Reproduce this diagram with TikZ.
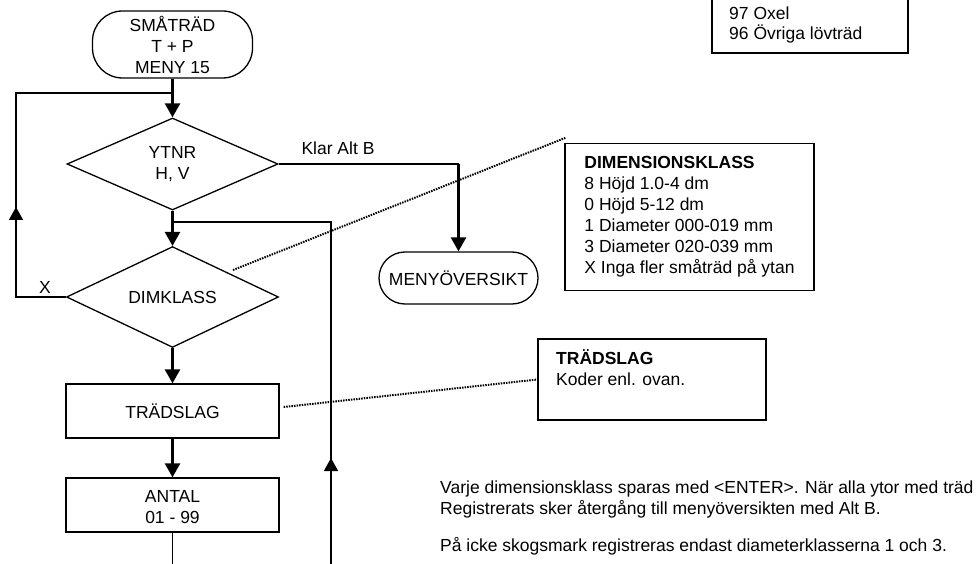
\documentclass[tikz,border=0pt]{standalone}
\usepackage{fontspec}
\setmainfont{Liberation Sans}
\usetikzlibrary{shapes.geometric,arrows.meta,calc}
\begin{document}
\begin{tikzpicture}[x=1pt,y=-1pt,
  every node/.style={font=\fontsize{17.5}{21}\selectfont},
  shp/.style={draw, line width=1.3pt, inner sep=0pt, align=center},
  term/.style={shp, rectangle, rounded corners=30pt},
  dec/.style={shp, diamond},
  proc/.style={shp, rectangle, minimum width=213pt, minimum height=54pt},
  note/.style={draw, line width=1.3pt, rectangle, inner sep=0pt},
  lnthin/.style={line width=1.3pt},
  lnthick/.style={line width=2.6pt, -{Triangle[width=15pt,length=14pt]}},
  upar/.style={line width=1.3pt, -{Triangle[width=14pt,length=13pt]}},
  dots/.style={line width=2pt, dash pattern=on 1.5pt off 1.1pt},
  lbl/.style={inner sep=0pt, text height=12.6pt, text depth=3.7pt}
]
\useasboundingbox (0,0) rectangle (980,564);
\clip (0,0) rectangle (980,564);

% flow nodes
\node[term, minimum width=160pt, minimum height=67pt] (start) at (172.5,44.5) {SMÅTRÄD\\T + P\\MENY 15};
\node[dec, minimum width=211pt, minimum height=92pt] (ytnr) at (172.5,164) {YTNR\\H, V};
\node[dec, minimum width=212pt, minimum height=92pt] (dim) at (172.5,297) {DIMKLASS};
\node[proc] (trad) at (172.5,411) {TRÄDSLAG};
\node[proc] (antal) at (172.5,505) {\rule{0pt}{16.5pt}ANTAL\\01 - 99};
\node[term, minimum width=159pt, minimum height=52pt, rounded corners=26pt] (meny) at (458.5,278) {MENYÖVERSIKT};

% main arrows
\draw[lnthick] (start) -- (ytnr);
\draw[lnthick] (ytnr) -- (dim);
\draw[lnthick] (dim) -- (trad);
\draw[lnthick] (trad) -- (antal);

% Klar Alt B
\coordinate (kc) at (ytnr.east -| meny.north);
\draw[lnthin] (ytnr.east) -- (kc);
\draw[lnthick] (kc) -- (meny.north);
\node[lbl] (klar) at (338,150) {Klar Alt B};

% left loop (X)
\coordinate (lx) at (16,0);
\coordinate (lbot) at (dim.west -| lx);
\coordinate (ltop) at (16,93);
\coordinate (lar) at (16,207);
\coordinate (j1) at (172.5,93);
\draw[lnthin] (dim.west) -- (lbot) -- (ltop) -- (j1);
\draw[upar] (lbot) -- (lar);
\node[lbl] (xl) at (45,289) {X};

% right loop
\coordinate (j2) at (172.5,222);
\coordinate (rtop) at (331,222);
\coordinate (rbot) at (331,568);
\coordinate (rar) at (331,458);
\draw[lnthin] (rbot) -- (rtop) -- (j2);
\draw[upar] (rbot) -- (rar);

% antal continues down
\coordinate (abot) at (172.5,568);
\draw[lnthin] (antal.south) -- (abot);

% DIMENSIONSKLASS note
\node[note, minimum width=249pt, minimum height=147pt, align=left] (dimnote) at (689.5,217)
  {\textbf{DIMENSIONSKLASS}\\8 Höjd 1.0-4 dm\\0 Höjd 5-12 dm\\1 Diameter 000-019 mm\\3 Diameter 020-039 mm\\X Inga fler småträd på ytan};
\coordinate (dimfree) at (233,270);
\draw[dots] (dimfree) -- ($(dimnote.north west)+(1,-5)$);

% TRÄDSLAG note
\node[note, minimum width=228pt, minimum height=81pt] (tradnote) at (652,379.5) {};
\node[lbl, anchor=west] (tradt1) at (556,360.5) {\textbf{TRÄDSLAG}};
\node[lbl, anchor=west] (tradt2) at (556,381.5) {Koder enl. ovan.};
\draw[dots] ($(trad.east)+(4,-4)$) -- (tradnote.west);

% top right note
\node[note, minimum width=196pt, minimum height=80pt] (topnote) at (810,13) {};
\node[lbl, anchor=west] (top1) at (729,15.5) {97 Oxel};
\node[lbl, anchor=west] (top2) at (729,35.5) {96 Övriga lövträd};

% bottom text
\node[lbl, anchor=west] (b1) at (440,489) {Varje dimensionsklass sparas med <ENTER>. När alla ytor med träd};
\node[lbl, anchor=west] (b2) at (440,510) {Registrerats sker återgång till menyöversikten med Alt B.};
\node[lbl, anchor=west] (b3) at (440,547) {På icke skogsmark registreras endast diameterklasserna 1 och 3.};
\end{tikzpicture}
\end{document}
